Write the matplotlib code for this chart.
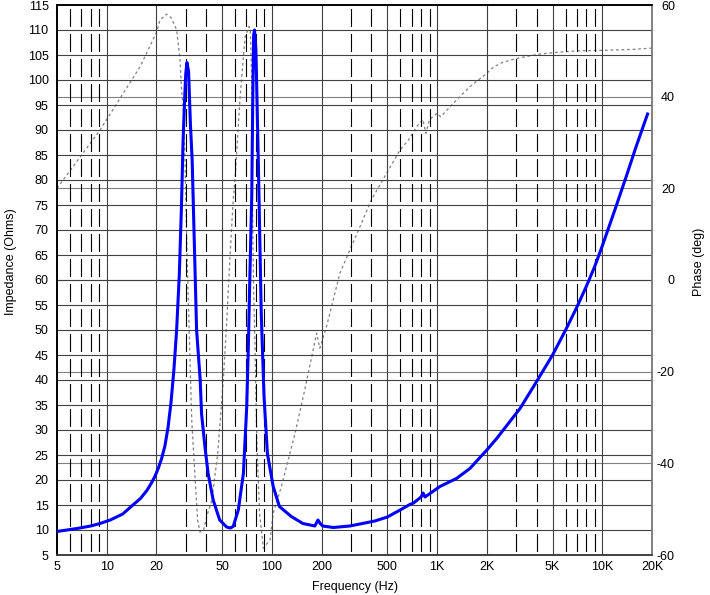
#!/usr/bin/env python3
"""Impedance and phase versus frequency, drawn like a loudspeaker sim chart."""

import matplotlib

matplotlib.use("Agg")
import matplotlib.pyplot as plt
from matplotlib.ticker import NullLocator

plt.rcParams["font.family"] = ["Liberation Sans", "DejaVu Sans"]
plt.rcParams["font.size"] = 9
plt.rcParams["lines.scale_dashes"] = False
plt.rcParams["axes.unicode_minus"] = False

# impedance curve (Hz, ohms)
freq_z = [
    5, 6.6, 8, 9.1, 10.5, 12.5, 14.4, 16, 17.5, 18.5, 19.5, 20.5, 21.5, 22.5,
    23.5, 24.5, 25.5, 26.5, 27.5, 28.3, 29, 29.7, 30.1, 30.6, 31.3, 32.1,
    32.9, 34.2, 35, 36.8, 37.5, 39.3, 41.1, 44.1, 48.3, 53.2, 56, 58.3, 62.6,
    67.2, 70.4, 72, 73.7, 75.5, 76.5, 77.5, 78.5, 80, 81, 82.8, 86.2, 89.6,
    93.9, 101.8, 111, 131, 154, 182, 190, 196, 203, 235, 296, 341, 420, 500,
    597, 684, 720, 800, 823, 845, 870, 1040, 1310, 1580, 2000, 2295, 3177,
    4005, 5000, 6000, 7000, 8000, 9000, 10000, 12000, 14000, 16000, 18800,
]
impedance = [
    9.7, 10.3, 10.8, 11.3, 12.0, 13.2, 15.0, 16.3, 17.9, 19.2, 20.6, 22.3, 24.3, 26.8,
    30.5, 35.5, 42, 50, 61, 74, 88, 97, 101.3, 103.5, 101.7, 91.3,
    84, 62.7, 50, 40, 33.3, 26.7, 21.3, 16, 12, 10.6, 10.4, 10.7, 14,
    21.3, 34.7, 46.7, 62, 76.7, 95, 109, 110, 106, 98, 83, 53.3, 36.7,
    25.3, 18.7, 14.7, 12.7, 11.3, 10.8, 12.0, 11.3, 10.8, 10.5, 10.8, 11.2, 11.8, 12.6,
    14.0, 15.1, 15.4, 16.6, 17.4, 16.6, 16.9, 18.7, 20.3, 22.3, 26, 28.3, 34.3,
    39.7, 45, 50.0, 54.5, 58.7, 62.7, 66.8, 74.3, 80.8, 86.6, 93.2,
]

# phase curve (Hz, degrees)
freq_p = [
    5, 9.1, 15.9, 20.1, 21, 23, 24.6, 26.5, 27.8, 28.3, 29, 29.7, 30.6, 31.5,
    32.7, 34.6, 35.5, 36.7, 38.6, 40.4, 43.3, 47, 50.8, 53.2, 55.6, 58.3,
    59.8, 64.2, 68.8, 72.7, 74, 75.3, 76, 77.3, 79, 81, 84.2, 88.7, 97.5,
    101.8, 114, 138, 158, 186.6, 195, 214, 258, 296, 341, 400, 495, 597, 670,
    754, 820, 855, 900, 1000, 1050, 1250, 1580, 2000, 2200, 2500, 3000,
    4000, 5000, 7000, 10000, 15000, 20000,
]
phase = [
    20, 32.7, 46.5, 54.2, 56.7, 58, 57.2, 54.6, 48, 42.2, 37.8, 27.7, 6.5, -10,
    -30.5, -45.8, -52.4, -55, -54.5, -51.5, -48, -37.8, -21.8, -9.4, 4.4, 17.5,
    22, 40, 53, 55.3, 54.6, 45, 22, 0, -14.5, -34.9, -50.9, -58.5, -56.7,
    -50.9, -45.1, -33.5, -24, -11.6, -14.9, -10.2, 1.5, 6.5, 11.6, 17.5, 23.3, 28.4, 30.5,
    33.5, 35, 32, 35, 36.4, 35.6, 38.5, 42.2, 45.1, 46.5, 47.5, 48.3,
    49.2, 49.6, 50, 50.1, 50.3, 50.6,
]

x_ticks = [5, 10, 20, 50, 100, 200, 500, 1000, 2000, 5000, 10000, 20000]
x_labels = ["5", "10", "20", "50", "100", "200", "500", "1K", "2K", "5K", "10K", "20K"]
solid_freqs = [10, 20, 50, 100, 200, 500, 1000, 2000, 5000, 10000]
dashed_freqs = [6, 7, 8, 9, 30, 40, 60, 70, 80, 90, 300, 400, 600, 700, 800, 900,
                3000, 4000, 6000, 7000, 8000, 9000]
z_ticks = list(range(5, 120, 5))
p_ticks = [-60, -40, -20, 0, 20, 40, 60]

W, H = 710, 595
fig = plt.figure(figsize=(W / 100, H / 100), dpi=100)
ax = fig.add_axes([57 / W, 40 / H, 595 / W, 550 / H])
ax2 = ax.twinx()
ax.set_zorder(ax2.get_zorder() + 1)
ax.patch.set_visible(False)

# phase axis (behind): its grid and the dotted curve
for p in p_ticks[1:-1]:
    ax2.axhline(p, color="#808080", lw=0.8, zorder=1)
ax2.plot(freq_p, phase, color="#808080", lw=0.9, linestyle=(0, (2.0, 2.0)), zorder=2)
ax2.set_ylim(-60, 60)
ax2.set_yticks(p_ticks)
ax2.tick_params(axis="y", length=0, pad=16.5)
for lab in ax2.get_yticklabels():
    lab.set_horizontalalignment("right")
ax2.set_ylabel("Phase (deg)")
ax2.yaxis.set_label_coords(1.069, 0.533)

# impedance axis (front)
for z in z_ticks[1:-1]:
    ax.axhline(z, color="#404040", lw=0.8, zorder=1)
for f in solid_freqs:
    ax.axvline(f, color="#404040", lw=0.8, zorder=1)
for f in dashed_freqs:
    ax.axvline(f, color="black", lw=0.8, linestyle=(15.48, (12.96, 5.04)), zorder=1)
ax.plot(freq_z, impedance, color="#0000ff", lw=2.2, zorder=3, solid_joinstyle="round")

ax.set_xscale("log")
ax.set_xlim(5, 20000)
ax.set_ylim(5, 115)
ax.set_xticks(x_ticks, x_labels)
ax.xaxis.set_minor_locator(NullLocator())
ax.set_yticks(z_ticks)
ax.tick_params(axis="x", length=0, pad=4)
ax.tick_params(axis="y", length=0, pad=6)
ax.set_xlabel("Frequency (Hz)", labelpad=6)
ax.set_ylabel("Impedance (Ohms)")
ax.yaxis.set_label_coords(-0.067, 0.533)

for a in (ax, ax2):
    a.spines["top"].set_color("black")
    a.spines["left"].set_color("black")
    a.spines["bottom"].set_color("#404040")
    a.spines["right"].set_color("#808080")
    for s in a.spines.values():
        s.set_linewidth(1.2)

fig.savefig("out.png", dpi=100)
